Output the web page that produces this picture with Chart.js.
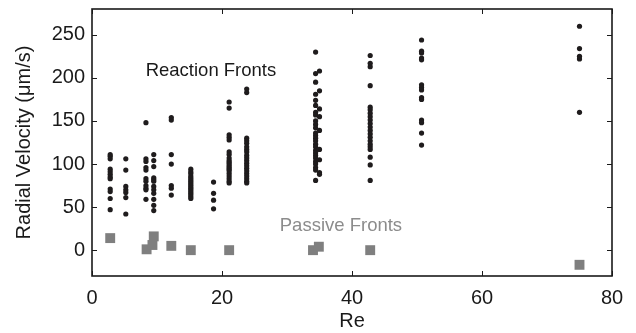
<!DOCTYPE html>
<html>
<head>
<meta charset="utf-8">
<script src="https://cdn.jsdelivr.net/npm/chart.js@4.4.1/dist/chart.umd.min.js"></script>
<style>
  html, body { margin: 0; padding: 0; background: #ffffff; }
  #wrap { width: 636px; height: 333px; }
</style>
</head>
<body>
<div id="wrap"><canvas id="c" width="636" height="333"></canvas></div>
<script>
// ---- Data ----
// Reaction fronts: Reynolds number of each measurement column and the velocities in it
const reactionRe = [2.8, 5.2, 8.3, 9.5, 12.2, 15.2, 18.7, 21.1, 23.8, 34.4, 35.0, 42.8, 50.7, 75.0];
const velRe2_8  = [111, 109, 106, 94, 91, 88, 85, 83, 71, 68, 60, 47];
const velRe5_2  = [106, 93, 74, 70, 67, 61, 42];
const velRe8_3  = [148, 106, 103, 96, 93, 83, 80, 75, 72, 70, 59];
const velRe9_5  = [111, 104, 97, 84, 82, 80, 74, 70, 66, 59, 52, 46];
const velRe12_2 = [154, 151, 111, 100, 75, 72, 64];
const velRe15_2 = [94, 91, 89, 86, 84, 82, 80, 78, 76, 74, 72, 70, 68, 66, 64, 62, 60];
const velRe18_7 = [79, 66, 58, 48];
const velRe21_1 = [172, 165, 134, 131, 128, 114, 111, 107, 104, 102, 100, 98, 96, 94, 92, 89, 86, 83, 80, 78];
const velRe23_8 = [187, 183, 130, 127, 124, 120, 117, 114, 110, 107, 104, 101, 98, 95, 92, 89, 86, 83, 80, 78];
const velRe34_4 = [230, 205, 195, 181, 174, 168, 160, 157, 150, 146, 142, 136, 133, 130, 127, 123, 120, 116, 113, 110, 107, 103, 100, 96, 93, 81];
const velRe35_0 = [208, 185, 164, 155, 139, 117, 105, 90, 88];
const velRe42_8 = [226, 217, 213, 191, 166, 163, 159, 155, 151, 147, 143, 139, 135, 131, 127, 123, 120, 117, 108, 99, 81];
const velRe50_7 = [244, 231, 229, 223, 221, 192, 189, 186, 177, 175, 151, 148, 136, 122];
const velRe75_0 = [260, 234, 225, 222, 160];
const reactionVel = [velRe2_8, velRe5_2, velRe8_3, velRe9_5, velRe12_2, velRe15_2, velRe18_7,
                     velRe21_1, velRe23_8, velRe34_4, velRe35_0, velRe42_8, velRe50_7, velRe75_0];

// Passive fronts
const passiveRe  = [2.8, 8.4, 9.3, 9.5, 12.2, 15.2, 21.1, 34.0, 34.9, 42.8, 75.0];
const passiveVel = [14, 1, 6, 16, 5, 0, 0, 0, 4, 0, -17];

// Axis ticks
const xTicks = [0, 20, 40, 60, 80];
const yTicks = [0, 50, 100, 150, 200, 250];

// ---- Build datasets ----
const reactionPoints = [];
reactionRe.forEach((re, i) => reactionVel[i].forEach(v => reactionPoints.push({x: re, y: v})));
const passivePoints = passiveRe.map((re, i) => ({x: re, y: passiveVel[i]}));

const FONT = "'Liberation Sans', Arial, Helvetica, sans-serif";

const framePlugin = {
  id: 'frame',
  afterDraw(chart) {
    const ctx = chart.ctx;
    const a = chart.chartArea;
    const xs = chart.scales.x, ys = chart.scales.y;
    ctx.save();
    ctx.strokeStyle = '#1a1a1a';
    ctx.lineWidth = 1.6;
    ctx.strokeRect(a.left, a.top, a.right - a.left, a.bottom - a.top);
    ctx.lineWidth = 1;
    const tl = 5;
    ctx.beginPath();
    xTicks.forEach(t => {
      const px = Math.round(xs.getPixelForValue(t)) + 0.5;
      ctx.moveTo(px, a.bottom); ctx.lineTo(px, a.bottom - tl);
      ctx.moveTo(px, a.top); ctx.lineTo(px, a.top + tl);
    });
    yTicks.forEach(t => {
      const py = Math.round(ys.getPixelForValue(t)) + 0.5;
      ctx.moveTo(a.left, py); ctx.lineTo(a.left + tl, py);
      ctx.moveTo(a.right, py); ctx.lineTo(a.right - tl, py);
    });
    ctx.stroke();

    // annotations
    ctx.font = '18.5px ' + FONT;
    ctx.textAlign = 'center';
    ctx.textBaseline = 'middle';
    ctx.fillStyle = '#1a1a1a';
    ctx.fillText('Reaction Fronts', xs.getPixelForValue(18.3), ys.getPixelForValue(208.5));
    ctx.fillStyle = '#8c8c8c';
    ctx.fillText('Passive Fronts', xs.getPixelForValue(38.3), ys.getPixelForValue(28.5));
    ctx.restore();
  }
};

new Chart(document.getElementById('c'), {
  type: 'scatter',
  data: {
    datasets: [
      {
        label: 'Reaction Fronts',
        data: reactionPoints,
        pointStyle: 'circle',
        pointRadius: 2.6,
        pointBorderWidth: 0,
        backgroundColor: '#1f1c1d',
        borderColor: '#1f1c1d'
      },
      {
        label: 'Passive Fronts',
        data: passivePoints,
        pointStyle: 'rect',
        pointRadius: 7,
        pointBorderWidth: 0,
        backgroundColor: '#7f7f7f',
        borderColor: '#7f7f7f'
      }
    ]
  },
  options: {
    responsive: false,
    animation: false,
    devicePixelRatio: 1,
    layout: { padding: { top: 9, right: 24, left: 0, bottom: 0 } },
    plugins: { legend: { display: false }, tooltip: { enabled: false } },
    scales: {
      x: {
        type: 'linear',
        min: 0, max: 80,
        afterBuildTicks: s => { s.ticks = xTicks.map(v => ({value: v})); },
        afterFit: s => { s.height = 57; s.paddingLeft = 0; s.paddingRight = 0; },
        grid: { display: false, drawTicks: false },
        border: { display: false },
        ticks: { padding: 10, color: '#1a1a1a', font: { family: FONT, size: 20 }, maxRotation: 0 },
        title: { display: true, text: 'Re', color: '#1a1a1a', font: { family: FONT, size: 20 }, padding: { top: 0, bottom: 0 } }
      },
      y: {
        type: 'linear',
        min: -30, max: 280,
        afterBuildTicks: s => { s.ticks = yTicks.map(v => ({value: v})); },
        afterFit: s => { s.width = 92; s.paddingTop = 0; s.paddingBottom = 0; },
        grid: { display: false, drawTicks: false },
        border: { display: false },
        ticks: { padding: 7, color: '#1a1a1a', font: { family: FONT, size: 20 } },
        title: { display: true, text: 'Radial Velocity (μm/s)', color: '#1a1a1a', font: { family: FONT, size: 20 }, padding: { top: 12, bottom: 0 } }
      }
    }
  },
  plugins: [framePlugin]
});
</script>
</body>
</html>
